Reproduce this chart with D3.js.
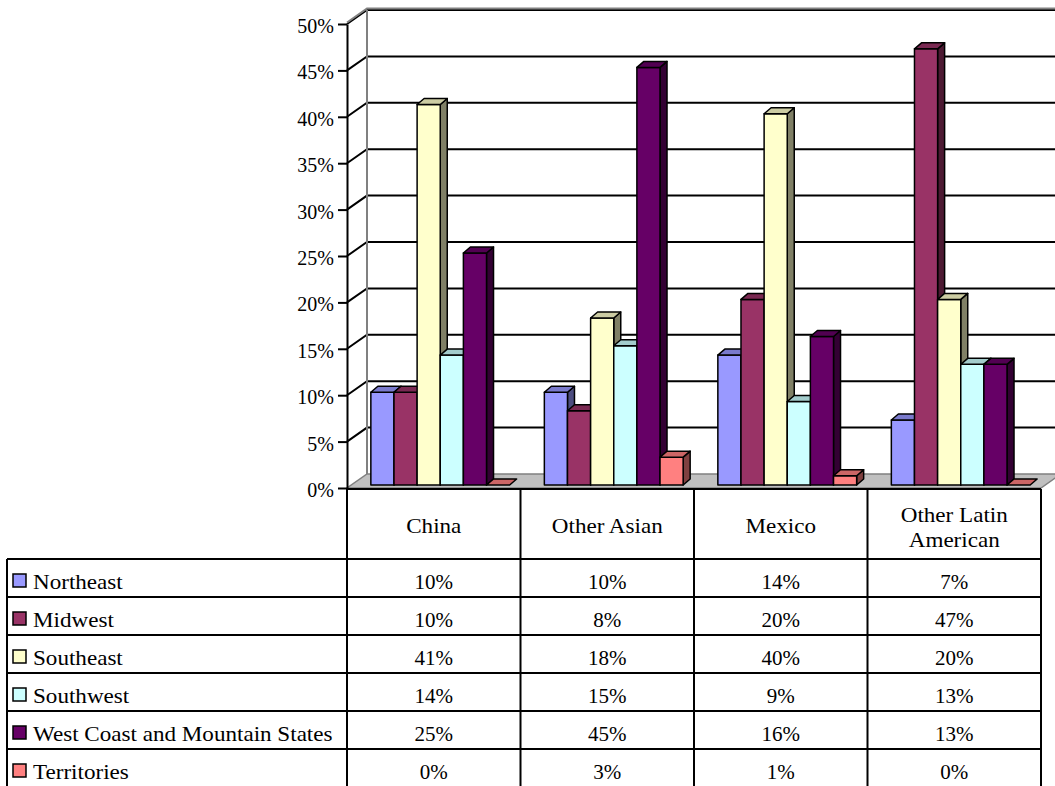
<!DOCTYPE html>
<html>
<head>
<meta charset="utf-8">
<script src="https://cdn.jsdelivr.net/npm/d3@7"></script>
<style>
  html, body { margin: 0; padding: 0; background: #fff; }
  svg { display: block; }
</style>
</head>
<body>
<svg id="chart" width="1055" height="786"></svg>
<script>
// ---- data ----
const categories = ["China", "Other Asian", "Mexico", "Other Latin American"];
const categoryLines = [["China"], ["Other Asian"], ["Mexico"], ["Other Latin", "American"]];
const seriesNames = ["Northeast", "Midwest", "Southeast", "Southwest", "West Coast and Mountain States", "Territories"];
const northeast   = [10, 10, 14, 7];
const midwest     = [10, 8, 20, 47];
const southeast   = [41, 18, 40, 20];
const southwest   = [14, 15, 9, 13];
const westCoast   = [25, 45, 16, 13];
const territories = [0, 3, 1, 0];
const seriesColors = ["#9999FF", "#993366", "#FFFFCC", "#CCFFFF", "#660066", "#FF8080"];
const yTicks = [0, 5, 10, 15, 20, 25, 30, 35, 40, 45, 50];

const seriesValues = [northeast, midwest, southeast, southwest, westCoast, territories];

// ---- layout ----
const FONT = "'Liberation Serif'";
const svg = d3.select("#chart").style("font-family", FONT);
const plotLeft = 347, plotRight = 1041;
const depthX = 20, depthY = -14;       // floor / wall depth
const barDX = 7, barDY = -6;           // bar depth
const barOffX = 6.5, barOffY = -3;     // bar front offset from front plane
const tableTop = 489, headerBottom = 559, rowH = 38, tableLeft = 7;

const x = d3.scaleBand().domain(categories).range([plotLeft, plotRight]).padding(0);
const xs = d3.scaleBand().domain(seriesNames).range([0, x.bandwidth()])
  .paddingInner(0).paddingOuter(0.75);
const y = d3.scaleLinear().domain([0, 50]).range([488, 24]);

function shade(c, k) {
  const r = d3.rgb(c);
  return d3.rgb(r.r * k, r.g * k, r.b * k).formatHex();
}
const pts = arr => arr.map(p => p.join(",")).join(" ");

// ---- walls & floor ----
const gWall = svg.append("g");
gWall.append("polygon")
  .attr("points", pts([[plotLeft, y(0)], [plotRight, y(0)], [plotRight + depthX, y(0) + depthY], [plotLeft + depthX, y(0) + depthY]]))
  .attr("fill", "#c0c0c0").attr("stroke", "#808080").attr("stroke-width", 1.5);

yTicks.filter(t => t > 0).forEach(t => {
  const yy = y(t);
  gWall.append("polyline")
    .attr("points", pts([[plotLeft, yy], [plotLeft + depthX, yy + depthY], [plotRight + depthX + 20, yy + depthY]]))
    .attr("fill", "none").attr("stroke", "#000").attr("stroke-width", 2);
});
gWall.append("line")
  .attr("x1", plotLeft + depthX).attr("x2", plotLeft + depthX)
  .attr("y1", y(50) + depthY).attr("y2", y(0) + depthY)
  .attr("stroke", "#808080").attr("stroke-width", 2);
gWall.append("polyline")
  .attr("points", pts([[plotLeft, y(50) - 1.5], [plotLeft + depthX, y(50) + depthY - 1.5], [plotRight + depthX + 20, y(50) + depthY - 1.5]]))
  .attr("fill", "none").attr("stroke", "#808080").attr("stroke-width", 2);

// ---- axis ----
const axis = d3.axisLeft(y).tickValues(yTicks).tickFormat(d => d + "%").tickSize(9).tickSizeOuter(0).tickPadding(4);
const gAxis = svg.append("g").attr("transform", `translate(${plotLeft},0)`).call(axis)
  .attr("font-family", null).style("font-family", FONT);
gAxis.select(".domain").attr("stroke", "#000").attr("stroke-width", 2);
gAxis.selectAll(".tick line").attr("stroke", "#000").attr("stroke-width", 2);
gAxis.selectAll(".tick text")
  .style("font-family", FONT)
  .attr("font-size", 20).attr("fill", "#000").attr("y", 2);

// ---- bars ----
const gBars = svg.append("g");
const yBar = v => y(v) + barOffY;
categories.forEach((cat, ci) => {
  seriesNames.forEach((s, si) => {
    const v = seriesValues[si][ci];
    const color = seriesColors[si];
    const x0 = x(cat) + xs(s) + barOffX;
    const w = xs.bandwidth();
    const yT = yBar(v), yB = yBar(0);
    const g = gBars.append("g")
      .attr("stroke", "#000").attr("stroke-width", 1.5).attr("stroke-linejoin", "round");
    if (v > 0) {
      g.append("polygon")
        .attr("points", pts([[x0 + w, yT], [x0 + w + barDX, yT + barDY], [x0 + w + barDX, yB + barDY], [x0 + w, yB]]))
        .attr("fill", shade(color, 0.5));
      g.append("rect")
        .attr("x", x0).attr("y", yT).attr("width", w).attr("height", yB - yT)
        .attr("fill", color);
    }
    g.append("polygon")
      .attr("points", pts([[x0, yT], [x0 + barDX, yT + barDY], [x0 + w + barDX, yT + barDY], [x0 + w, yT]]))
      .attr("fill", shade(color, 0.8));
  });
});

// ---- data table ----
const gT = svg.append("g");
const lineAttr = sel => sel.attr("stroke", "#000").attr("stroke-width", 2);
const tableBottom = headerBottom + rowH * seriesNames.length;
gT.append("line").attr("x1", plotLeft).attr("x2", plotRight).attr("y1", tableTop).attr("y2", tableTop).call(lineAttr);
for (let i = 0; i <= seriesNames.length; i++) {
  const yy = headerBottom + rowH * i;
  gT.append("line").attr("x1", tableLeft).attr("x2", plotRight).attr("y1", yy).attr("y2", yy).call(lineAttr);
}
gT.append("line").attr("x1", tableLeft).attr("x2", tableLeft).attr("y1", headerBottom).attr("y2", tableBottom).call(lineAttr);
gT.append("line").attr("x1", plotLeft).attr("x2", plotLeft).attr("y1", y(0)).attr("y2", tableBottom).call(lineAttr);
categories.forEach(cat => {
  const xx = x(cat) + x.bandwidth();
  gT.append("line").attr("x1", xx).attr("x2", xx).attr("y1", tableTop).attr("y2", tableBottom).call(lineAttr);
});

const addText = (sel) => sel.style("font-family", FONT).attr("fill", "#000");

categories.forEach((cat, ci) => {
  const cx = x(cat) + x.bandwidth() / 2;
  const lines = categoryLines[ci];
  const base = lines.length === 1 ? [533] : [521.5, 546.5];
  lines.forEach((ln, li) => {
    gT.append("text")
      .attr("transform", `translate(${cx},${base[li]}) scale(1.1,1)`)
      .attr("text-anchor", "middle").attr("font-size", 21).call(addText).text(ln);
  });
});

seriesNames.forEach((s, si) => {
  const top = headerBottom + rowH * si;
  gT.append("rect")
    .attr("x", 13).attr("y", top + 15).attr("width", 13).attr("height", 13)
    .attr("fill", seriesColors[si]).attr("stroke", "#000").attr("stroke-width", 1.5);
  gT.append("text")
    .attr("transform", `translate(33,${top + 29.5}) scale(1.1,1)`)
    .attr("font-size", 21).call(addText).text(s);
  categories.forEach((cat, ci) => {
    gT.append("text")
      .attr("x", x(cat) + x.bandwidth() / 2).attr("y", top + 30)
      .attr("text-anchor", "middle").attr("font-size", 21).call(addText)
      .text(seriesValues[si][ci] + "%");
  });
});
</script>
</body>
</html>
